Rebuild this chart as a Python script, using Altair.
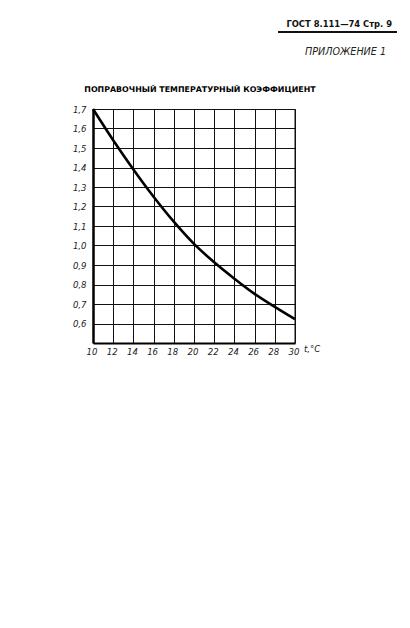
import altair as alt
import pandas as pd

# data
temps = [10, 12, 14, 16, 18, 20, 22, 24, 26, 28, 30]
coef = [1.70, 1.54, 1.39, 1.25, 1.122, 1.008, 0.914, 0.830, 0.752, 0.685, 0.622]
x_ticks = [10, 12, 14, 16, 18, 20, 22, 24, 26, 28, 30]
y_ticks = [0.6, 0.7, 0.8, 0.9, 1.0, 1.1, 1.2, 1.3, 1.4, 1.5, 1.6, 1.7]
title_text = "ПОПРАВОЧНЫЙ ТЕМПЕРАТУРНЫЙ КОЭФФИЦИЕНТ"
header_text = "ГОСТ 8.111—74 Стр. 9"
appendix_text = "ПРИЛОЖЕНИЕ 1"
x_unit = "t,°C"

W, H = 202, 234
LEFT, TOP = 85, 101

df = pd.DataFrame({"t": temps, "k": coef})

xs = alt.X("t:Q", scale=alt.Scale(domain=[10, 30], nice=False, zero=False),
           axis=alt.Axis(values=x_ticks, title=None, grid=True, gridColor="#111",
                         gridWidth=1, gridOpacity=1, ticks=False, domainColor="#000",
                         domainWidth=2, labelFont="DejaVu Sans Condensed",
                         labelFontStyle="italic", labelFontSize=9.5, labelColor="#222",
                         labelPadding=3, labelOffset=-1.5, labelFlush=False))
ys = alt.Y("k:Q", scale=alt.Scale(domain=[0.5, 1.7], nice=False, zero=False),
           axis=alt.Axis(values=y_ticks, title=None, grid=True, gridColor="#111",
                         gridWidth=1, gridOpacity=1, ticks=False, domainColor="#000",
                         domainWidth=2.5, labelFont="DejaVu Sans Condensed",
                         labelFontStyle="italic", labelFontSize=9.5, labelColor="#222",
                         labelPadding=7, labelFlush=False,
                         labelExpr="replace(format(datum.value, '.1f'), '.', ',')"))

curve = alt.Chart(df).mark_line(color="#000", strokeWidth=2.6, interpolate="monotone").encode(x=xs, y=ys)

right = alt.Chart(pd.DataFrame({"v": [0]})).mark_rule(color="#111", strokeWidth=1).encode(
    x=alt.value(W), y=alt.value(0), y2=alt.value(H))


def txt(s, px, py, **kw):
    return alt.Chart(pd.DataFrame({"s": [s]})).mark_text(**kw).encode(
        x=alt.value(px - 93), y=alt.value(py - 109), text="s:N")


title = txt(title_text, 200, 90, font="DejaVu Sans", fontWeight="bold", fontSize=7.9,
            color="#000", align="center", baseline="middle")
header = txt(header_text, 392, 24, font="DejaVu Sans", fontWeight="bold", fontSize=8.4,
             color="#111", align="right", baseline="middle")
appendix = txt(appendix_text, 386, 52, font="DejaVu Sans", fontStyle="italic",
               fontSize=9.6, color="#222", align="right", baseline="middle")
unit = txt(x_unit, 304, 349, font="DejaVu Sans Condensed", fontStyle="italic",
           fontSize=9.5, color="#222", align="left", baseline="middle")
hrule = alt.Chart(pd.DataFrame({"v": [0]})).mark_rule(color="#111", strokeWidth=2).encode(
    x=alt.value(278 - 93), x2=alt.value(397 - 93), y=alt.value(32 - 109))

chart = alt.layer(curve, right, title, header, appendix, unit, hrule).properties(
    width=W, height=H,
    autosize=alt.AutoSizeParams(type="none"),
    padding={"left": LEFT, "top": TOP, "right": 394 - LEFT - W, "bottom": 612 - TOP - H},
    background="white",
).configure_view(stroke=None)

chart.save("out.html", embed_options={"renderer": "svg", "actions": False})
